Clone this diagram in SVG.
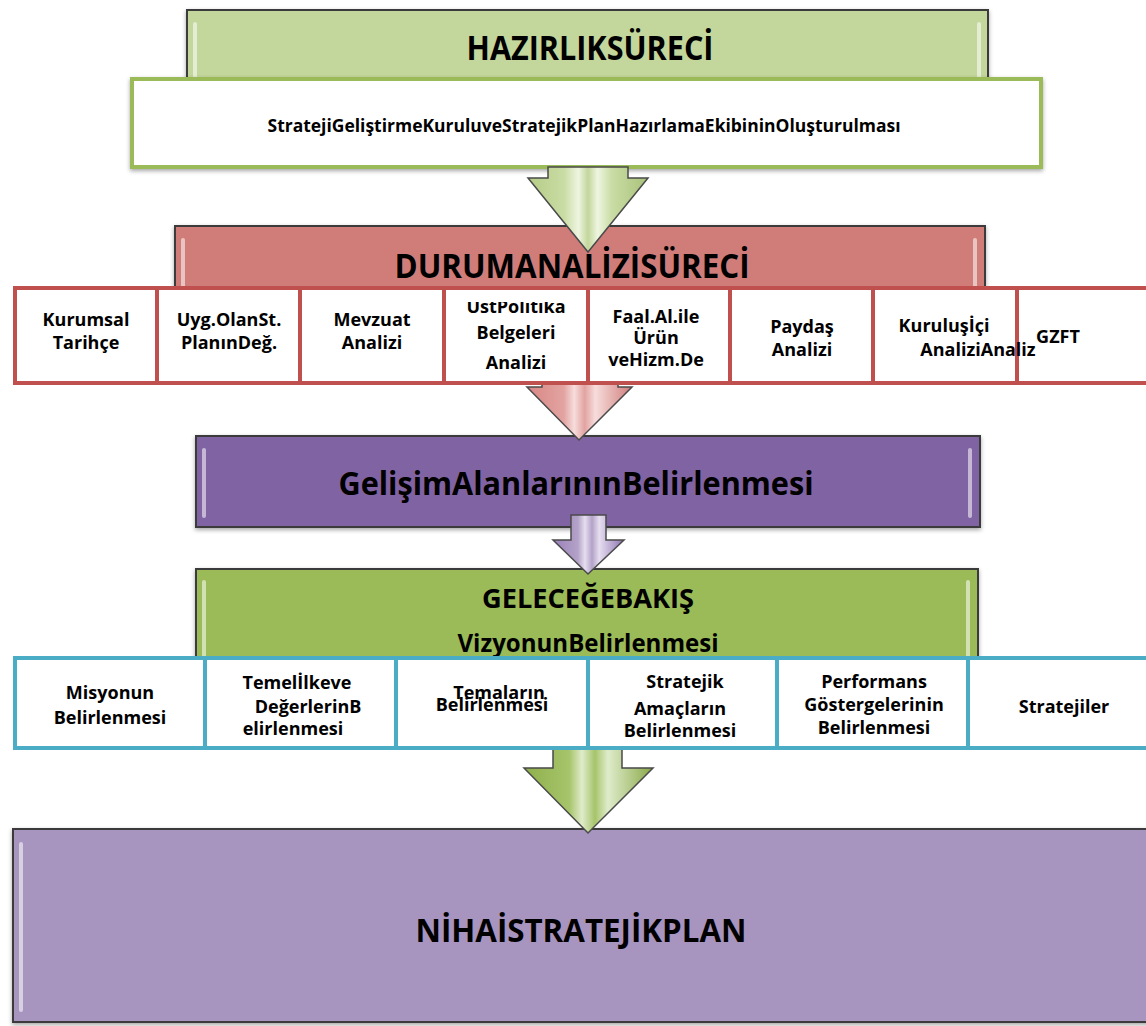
<svg xmlns="http://www.w3.org/2000/svg" width="1146" height="1026" viewBox="0 0 1146 1026">
<defs>
<filter id="sh" x="-5%" y="-10%" width="110%" height="130%">
<feDropShadow dx="0" dy="2" stdDeviation="2" flood-color="#000" flood-opacity="0.35"/>
</filter>
<linearGradient id="gLight" x1="0" y1="0" x2="1" y2="0">
<stop offset="0" stop-color="#b5cc86"/><stop offset="0.3" stop-color="#c9dca4"/><stop offset="0.42" stop-color="#eef5e0"/><stop offset="0.5" stop-color="#c3d69b"/><stop offset="0.58" stop-color="#eef5e0"/><stop offset="0.7" stop-color="#c9dca4"/><stop offset="1" stop-color="#a9c27a"/>
</linearGradient>
<linearGradient id="gRed" x1="0" y1="0" x2="1" y2="0">
<stop offset="0" stop-color="#d98784"/><stop offset="0.35" stop-color="#e2a3a1"/><stop offset="0.45" stop-color="#f6dddc"/><stop offset="0.55" stop-color="#e2a3a1"/><stop offset="0.65" stop-color="#f6dddc"/><stop offset="1" stop-color="#d07d7a"/>
</linearGradient>
<linearGradient id="gPur" x1="0" y1="0" x2="1" y2="0">
<stop offset="0" stop-color="#9a80bc"/><stop offset="0.35" stop-color="#b3a2c7"/><stop offset="0.45" stop-color="#e6def0"/><stop offset="0.55" stop-color="#b3a2c7"/><stop offset="0.65" stop-color="#e6def0"/><stop offset="1" stop-color="#8d72b0"/>
</linearGradient>
<linearGradient id="gGreen" x1="0" y1="0" x2="1" y2="0">
<stop offset="0" stop-color="#8fb04c"/><stop offset="0.35" stop-color="#a6c46a"/><stop offset="0.45" stop-color="#dfeccb"/><stop offset="0.55" stop-color="#a6c46a"/><stop offset="0.65" stop-color="#dfeccb"/><stop offset="1" stop-color="#89a846"/>
</linearGradient>
<clipPath id="clipUst"><rect x="444" y="302" width="144" height="90"/></clipPath>
<style>
.box{stroke:#3a3a3a;stroke-width:2;filter:url(#sh)}
.hl{fill:#ffffff;opacity:0.55}
.arrow{stroke:#4a4a4a;stroke-width:1.5;stroke-linejoin:miter}
.rc{fill:#ffffff;stroke:#c0504d;stroke-width:4}
.bc{fill:#ffffff;stroke:#4bacc6;stroke-width:4}
.wb{fill:#ffffff;stroke:#9bbb59;stroke-width:4;filter:url(#sh)}
text{font-family:"Open Sans","Liberation Sans",sans-serif;font-weight:700;fill:#000000;text-anchor:middle}
.t{font-size:18px}
</style>
</defs>

<g id="hazirlik">
<rect class="box" x="187" y="10" width="801" height="150" fill="#c3d69b"/>
<rect class="hl" x="193" y="22" width="4" height="130" rx="2"/>
<rect class="hl" x="977" y="22" width="4" height="130" rx="2"/>
<text x="590" y="60" font-size="34" textLength="247" lengthAdjust="spacingAndGlyphs">HAZIRLIKSÜRECİ</text>
</g>

<g id="ekip">
<rect class="wb" x="132" y="79" width="909" height="88"/>
<text x="584" y="132" font-size="18" textLength="633" lengthAdjust="spacingAndGlyphs">StratejiGeliştirmeKuruluveStratejikPlanHazırlamaEkibininOluşturulması</text>
</g>

<g id="durum">
<rect class="box" x="175" y="226" width="810" height="100" fill="#d07d7a"/>
<rect class="hl" x="181" y="238" width="4" height="80" rx="2"/>
<rect class="hl" x="973" y="238" width="4" height="80" rx="2"/>
<text x="572" y="278" font-size="34" textLength="355" lengthAdjust="spacingAndGlyphs">DURUMANALİZİSÜRECİ</text>
</g>

<g id="gelisim">
<rect class="box" x="196" y="436" width="784" height="91" fill="#8064a2"/>
<rect class="hl" x="202" y="448" width="4" height="70" rx="2" opacity="0.4"/>
<rect class="hl" x="968" y="448" width="4" height="70" rx="2" opacity="0.4"/>
<text x="576" y="495" font-size="33" textLength="475" lengthAdjust="spacingAndGlyphs">GelişimAlanlarınınBelirlenmesi</text>
</g>

<g id="gelecege">
<rect class="box" x="196" y="569" width="782" height="170" fill="#9bbb59"/>
<rect class="hl" x="202" y="580" width="4" height="150" rx="2" opacity="0.45"/>
<rect class="hl" x="966" y="580" width="4" height="150" rx="2" opacity="0.45"/>
<text x="588" y="608" font-size="27" textLength="212" lengthAdjust="spacingAndGlyphs">GELECEĞEBAKIŞ</text>
<text x="588" y="652" font-size="25" textLength="261" lengthAdjust="spacingAndGlyphs">VizyonunBelirlenmesi</text>
</g>

<g id="nihai">
<rect class="box" x="13" y="829" width="1145" height="193" fill="#a794bf"/>
<rect class="hl" x="19" y="842" width="4" height="170" rx="2"/>
<text x="581" y="942" font-size="33" textLength="331" lengthAdjust="spacingAndGlyphs">NİHAİSTRATEJİKPLAN</text>
</g>

<g id="connectors">
<polygon class="arrow" fill="url(#gLight)" points="548,167 628,167 628,178 648,178 588,252 528,178 548,178"/>
<polygon class="arrow" fill="url(#gRed)" points="542,300 618,300 618,387 632,387 579,440 527,387 542,387"/>
<polygon class="arrow" fill="url(#gPur)" points="571,515 606,515 606,540 624,540 588,574 553,540 571,540"/>
<polygon class="arrow" fill="url(#gGreen)" points="553,740 622,740 622,768 653,768 588,833 524,768 553,768"/>
</g>

<g id="kurumsal"><rect class="rc" x="15" y="288" width="142" height="95"/>
<text class="t" x="86" y="326">Kurumsal</text><text class="t" x="86" y="349">Tarihçe</text></g>
<g id="uyg"><rect class="rc" x="157" y="288" width="143" height="95"/>
<text class="t" x="229" y="326">Uyg.OlanSt.</text><text class="t" x="229" y="349">PlanınDeğ.</text></g>
<g id="mevzuat"><rect class="rc" x="300" y="288" width="144" height="95"/>
<text class="t" x="372" y="326">Mevzuat</text><text class="t" x="372" y="349">Analizi</text></g>
<g id="ust"><rect class="rc" x="444" y="288" width="144" height="95"/>
<text class="t" x="516" y="313" clip-path="url(#clipUst)">ÜstPolitika</text><text class="t" x="516" y="339">Belgeleri</text><text class="t" x="516" y="369">Analizi</text></g>
<g id="faal"><rect class="rc" x="588" y="288" width="142" height="95"/>
<text class="t" x="656" y="323">Faal.Al.ile</text><text class="t" x="656" y="344">Ürün</text><text class="t" x="656" y="366">veHizm.De</text></g>
<g id="paydas"><rect class="rc" x="730" y="288" width="143" height="95"/>
<text class="t" x="802" y="333">Paydaş</text><text class="t" x="802" y="356">Analizi</text></g>
<g id="gzft"><rect class="rc" x="1017" y="288" width="150" height="95"/>
<text class="t" x="1058" y="343">GZFT</text></g>
<g id="kurulus"><rect class="rc" x="873" y="288" width="144" height="95"/>
<text class="t" x="944" y="332">Kuruluşİçi</text><text class="t" x="978" y="356">AnaliziAnaliz</text></g>

<g id="misyon"><rect class="bc" x="15" y="658" width="190" height="90"/>
<text class="t" x="110" y="699">Misyonun</text><text class="t" x="110" y="724">Belirlenmesi</text></g>
<g id="temel"><rect class="bc" x="205" y="658" width="191" height="90"/>
<text class="t" x="297" y="689">Temelİlkeve</text><text class="t" x="308" y="713">DeğerlerinB</text><text class="t" x="293" y="735">elirlenmesi</text></g>
<g id="tema"><rect class="bc" x="396" y="658" width="192" height="90"/>
<text class="t" x="499" y="699">Temaların</text><text class="t" x="492" y="711">Belirlenmesi</text></g>
<g id="amac"><rect class="bc" x="588" y="658" width="189" height="90"/>
<text class="t" x="685" y="688">Stratejik</text><text class="t" x="680" y="715">Amaçların</text><text class="t" x="680" y="737">Belirlenmesi</text></g>
<g id="performans"><rect class="bc" x="777" y="658" width="191" height="90"/>
<text class="t" x="874" y="688">Performans</text><text class="t" x="874" y="711">Göstergelerinin</text><text class="t" x="874" y="734">Belirlenmesi</text></g>
<g id="stratejiler"><rect class="bc" x="968" y="658" width="200" height="90"/>
<text class="t" x="1064" y="713">Stratejiler</text></g>
</svg>
